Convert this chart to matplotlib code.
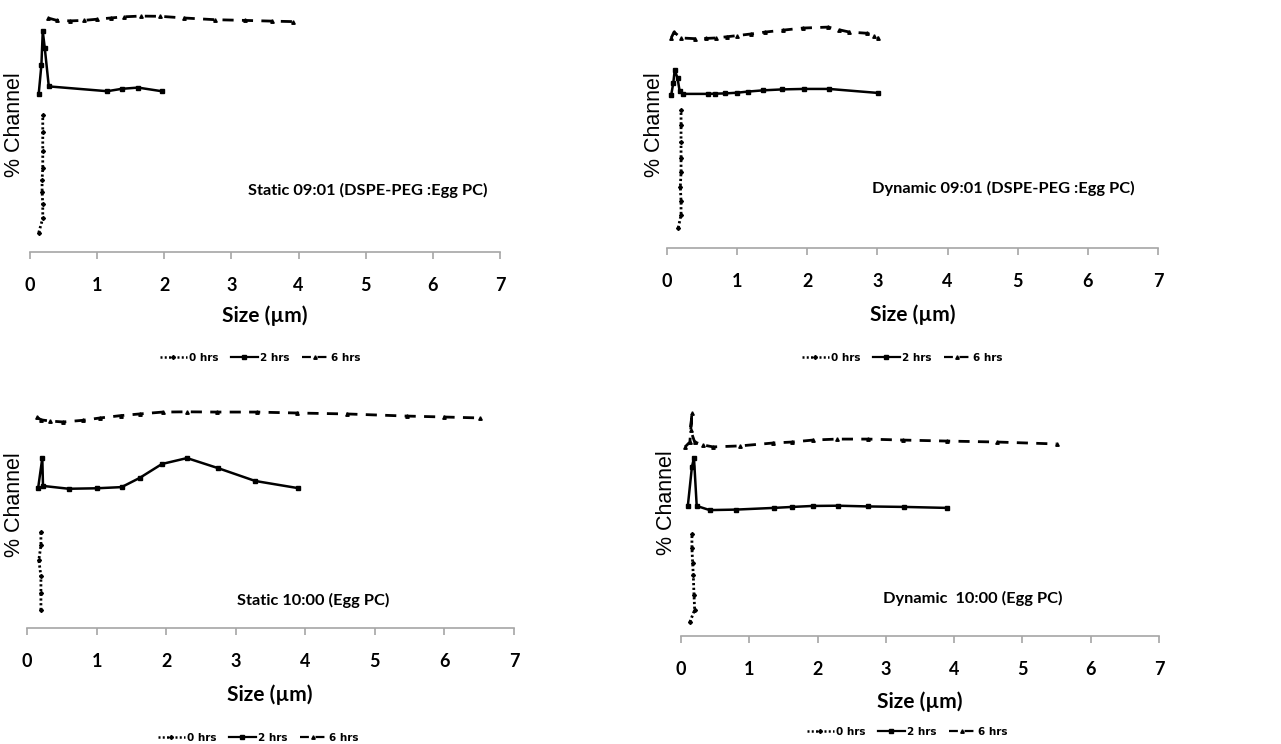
import matplotlib
matplotlib.use("Agg")
from matplotlib import pyplot as plt
from matplotlib.lines import Line2D

W, H = 1281, 744

# ---- data (x = size in um, y = offset % channel, arbitrary units 0-100) ----
# Static 09:01 (DSPE-PEG :Egg PC)
s9_x0 = [0.13, 0.19, 0.19, 0.18, 0.18, 0.19, 0.19, 0.19, 0.19]
s9_y0 = [8, 14, 20, 25, 30, 35, 42, 50, 57]
s9_x2 = [0.13, 0.17, 0.19, 0.22, 0.28, 1.15, 1.37, 1.61, 1.96]
s9_y2 = [66, 78, 92, 85, 69, 67, 68, 68.5, 67]
s9_x6 = [0.27, 0.4, 0.6, 0.8, 1.0, 1.2, 1.4, 1.65, 1.94, 2.3, 2.75, 3.2, 3.6, 3.91]
s9_y6 = [97.5, 96.5, 96.3, 96.5, 97, 97.5, 98, 98.3, 98.2, 97.5, 96.8, 96.5, 96.2, 96]

# Dynamic 09:01 (DSPE-PEG :Egg PC)
d9_x0 = [0.16, 0.2, 0.2, 0.19, 0.2, 0.2, 0.2, 0.2, 0.2]
d9_y0 = [8.5, 14, 20, 26, 32, 38, 45, 52, 58.5]
d9_x2 = [0.06, 0.09, 0.11, 0.15, 0.18, 0.23, 0.58, 0.68, 0.83, 1.0, 1.16, 1.37, 1.64, 1.95, 2.31, 3.01]
d9_y2 = [64.8, 70, 75.4, 72, 66.5, 65.3, 65.3, 65.4, 65.5, 65.8, 66.3, 66.8, 67.2, 67.4, 67.4, 65.7]
d9_x6 = [0.06, 0.1, 0.2, 0.4, 0.55, 0.7, 0.85, 1.0, 1.2, 1.4, 1.65, 1.94, 2.3, 2.45, 2.6, 2.85, 2.95, 3.01]
d9_y6 = [89, 91.5, 89, 88.7, 88.8, 89, 89.5, 90, 90.7, 91.5, 92.3, 93.2, 93.6, 92.5, 91.5, 91, 90, 89]

# Static 10:00 (Egg PC)
s10_x0 = [0.2, 0.2, 0.2, 0.17, 0.2, 0.2]
s10_y0 = [7.6, 15, 22, 28.8, 35, 40.7]
s10_x2 = [0.16, 0.22, 0.23, 0.6, 1.0, 1.36, 1.62, 1.94, 2.30, 2.74, 3.28, 3.89]
s10_y2 = [59.3, 72, 60.2, 59, 59.2, 59.7, 63.6, 69.5, 72, 67.8, 62.3, 59.3]
s10_x6 = [0.14, 0.2, 0.33, 0.52, 0.8, 1.05, 1.35, 1.62, 1.95, 2.3, 2.73, 3.30, 3.88, 4.6, 5.46, 6.0, 6.51]
s10_y6 = [89.4, 88.2, 87.7, 87.3, 88, 89, 90, 90.7, 91.5, 91.6, 91.5, 91.5, 91.1, 90.7, 89.8, 89.4, 89]

# Dynamic 10:00 (Egg PC)
d10_x0 = [0.13, 0.2, 0.19, 0.18, 0.17, 0.16, 0.16]
d10_y0 = [5.7, 10.7, 17, 25, 30, 36, 41.8]
d10_x2 = [0.10, 0.16, 0.19, 0.23, 0.42, 0.8, 1.36, 1.63, 1.93, 2.30, 2.74, 3.27, 3.89]
d10_y2 = [53.3, 69.3, 73, 53.3, 51.6, 51.8, 52.5, 52.9, 53.3, 53.4, 53.1, 52.9, 52.5]
d10_x6 = [0.06, 0.13, 0.16, 0.14, 0.2, 0.32, 0.47, 0.86, 1.35, 1.63, 1.93, 2.28, 2.74, 3.25, 3.89, 4.63, 5.5]
d10_y6 = [77.5, 79.5, 91.4, 84.4, 79.5, 78.3, 77.5, 77.9, 79.1, 79.5, 80.3, 80.7, 80.7, 80.3, 79.9, 79.5, 78.7]

titles = ["Static 09:01 (DSPE-PEG :Egg PC)", "Dynamic 09:01 (DSPE-PEG :Egg PC)",
          "Static 10:00 (Egg PC)", "Dynamic  10:00 (Egg PC)"]
legend_labels = ["0 hrs", "2 hrs", "6 hrs"]
xticks = [0, 1, 2, 3, 4, 5, 6, 7]

BOLD = ["Lato", "DejaVu Sans"]
DOT = (0, (0.8, 0.9))
DASH = (0, (4, 3))


def fx(px):
    return px / W


def fy(py):
    return 1 - py / H


fig = plt.figure(figsize=(W / 100, H / 100), dpi=100)


# draw one panel; geometry is in pixels of the original picture
def panel(x0px, x7px, axis_py, top_py, series, title, title_xy, ylab_xy, xlab_xy, leg_xy):
    ax = fig.add_axes([fx(x0px), fy(axis_py), (x7px - x0px) / W, (axis_py - top_py) / H])
    (xa, ya), (xb, yb), (xc, yc) = series
    ax.plot(xa, ya, color="black", ls=DOT, lw=2.0, marker="D", ms=2)
    ax.plot(xb, yb, color="black", ls="-", lw=1.8, marker="s", ms=3)
    ax.plot(xc, yc, color="black", ls=DASH, lw=2.0, marker="^", ms=2.5)
    ax.set_xlim(0, 7)
    ax.set_ylim(0, 100)
    ax.set_xticks(xticks)
    ax.set_yticks([])
    for s in ["top", "right", "left"]:
        ax.spines[s].set_visible(False)
    ax.spines["bottom"].set_color("#a6a6a6")
    ax.spines["bottom"].set_linewidth(1.2)
    ax.tick_params(axis="x", direction="out", length=5, width=1.2, color="#a6a6a6", pad=13)
    for lab in ax.get_xticklabels():
        lab.set_fontfamily(BOLD)
        lab.set_fontweight("bold")
        lab.set_fontsize(13)
    ax.patch.set_alpha(0)

    fig.text(fx(title_xy[0]), fy(title_xy[1]), title, ha="left", va="center",
             family=BOLD, weight="bold", fontsize=11.8)
    fig.text(fx(ylab_xy[0]), fy(ylab_xy[1]), "% Channel", rotation=90, ha="center",
             va="center", family=["Liberation Sans", "DejaVu Sans"], fontsize=15.5)
    fig.text(fx(xlab_xy[0]), fy(xlab_xy[1]), "Size (µm)", ha="center", va="center",
             family=BOLD, weight="bold", fontsize=15)

    handles = [Line2D([], [], color="black", ls=DOT, lw=1.8, marker="D", ms=2),
               Line2D([], [], color="black", ls="-", lw=1.6, marker="s", ms=3),
               Line2D([], [], color="black", ls=DASH, lw=1.6, marker="^", ms=2.5)]
    fig.legend(handles, legend_labels, loc="center", ncol=3, frameon=False,
               bbox_to_anchor=(fx(leg_xy[0]), fy(leg_xy[1])),
               prop={"family": ["Liberation Sans Narrow", "DejaVu Sans"], "weight": "bold", "size": 7.5},
               handlelength=2.6, handletextpad=0.2, columnspacing=1.2, markerscale=1)
    return ax


panel(30, 500, 252, 12, [(s9_x0, s9_y0), (s9_x2, s9_y2), (s9_x6, s9_y6)],
      titles[0], (248, 190), (15, 125), (265, 316), (260, 358))
panel(667, 1158, 248, 12, [(d9_x0, d9_y0), (d9_x2, d9_y2), (d9_x6, d9_y6)],
      titles[1], (872, 188), (655, 125), (913, 315), (902, 358))
panel(27, 514, 628, 392, [(s10_x0, s10_y0), (s10_x2, s10_y2), (s10_x6, s10_y6)],
      titles[2], (237, 600), (15, 505), (270, 695), (258, 738))
panel(681, 1159, 636, 392, [(d10_x0, d10_y0), (d10_x2, d10_y2), (d10_x6, d10_y6)],
      titles[3], (883, 598), (667, 503), (920, 702), (907, 732))

fig.savefig("out.png", dpi=100)
